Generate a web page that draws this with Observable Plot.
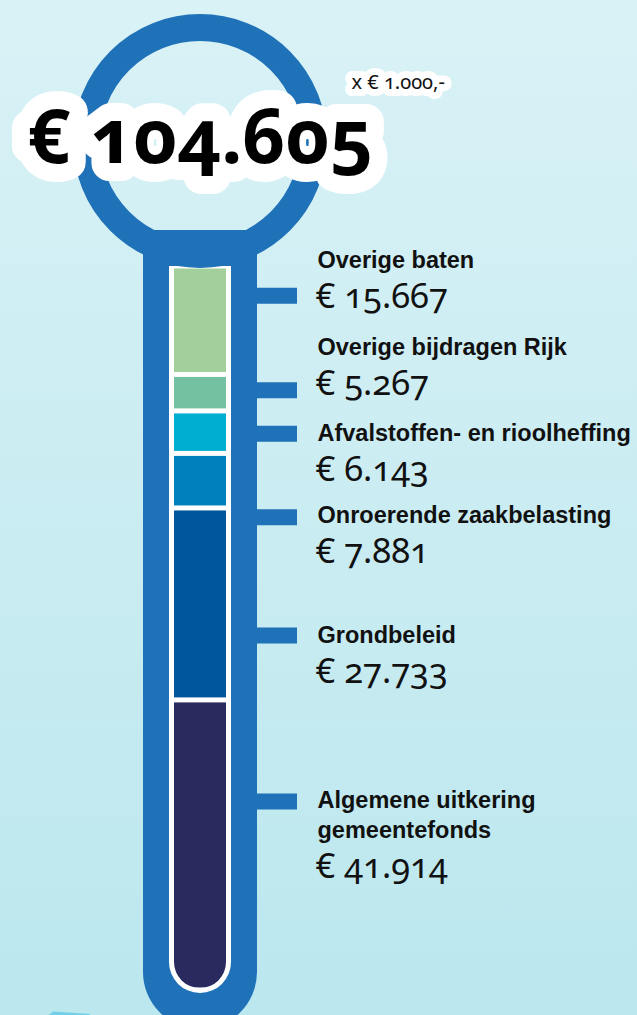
<!DOCTYPE html>
<html>
<head>
<meta charset="utf-8">
<script src="https://cdn.jsdelivr.net/npm/d3@7"></script>
<script src="https://cdn.jsdelivr.net/npm/@observablehq/plot@0.6"></script>
<style>
html, body { margin: 0; padding: 0; overflow: hidden; }
body { width: 637px; height: 1015px; background: linear-gradient(to bottom, #d9f2f6 0%, #bbe7ee 100%); }
#chart svg { background: transparent; }
#chart svg text { font-variant-numeric: oldstyle-nums; }
</style>
</head>
<body>
<div id="chart"></div>
<script>
// ---- data (x € 1.000) ----
const categories = [
  "Overige baten",
  "Overige bijdragen Rijk",
  "Afvalstoffen- en rioolheffing",
  "Onroerende zaakbelasting",
  "Grondbeleid",
  "Algemene uitkering\ngemeentefonds"
];
const values = [15667, 5267, 6143, 7881, 27733, 41914];
const colors = ["#a3cf9c", "#73c1a1", "#00aed1", "#0080bd", "#00569a", "#292a5e"];
const unitNote = "x € 1.000,-";

// ---- layout nudges (px) for the hand-placed labels ----
const tickShift = [-25, -3, 1, 36, 31, -44];
const labelShift = [-53, -38, 8, 42, 39, -7];

const BLUE = "#1f71b8";
const CX = 200;

const total = d3.sum(values);
const nl = d3.formatLocale({decimal: ",", thousands: ".", grouping: [3], currency: ["€ ", ""]});
const euro = nl.format("$,d");

const rows = categories.map((name, i) => ({name, value: values[i]}));
let acc = total;
rows.forEach(r => { r.mid = acc - r.value / 2; acc -= r.value; });

function glassBack() {
  const g = d3.create("svg:g");
  g.append("path")
    .attr("d", `M${CX - 57},230H${CX + 57}V972A57,57 0 0 1 ${CX - 57},972Z`)
    .attr("fill", BLUE);
  g.append("path")
    .attr("d", `M${CX - 31},266H${CX + 31}V962A31,31 0 0 1 ${CX - 31},962Z`)
    .attr("fill", "#ffffff");
  g.append("clipPath").attr("id", "tube-clip")
    .append("path")
    .attr("d", `M${CX - 26},0H${CX + 26}V962A26,26 0 0 1 ${CX - 26},962Z`);
  g.append("path")
    .attr("d", "M49,1015L53,1011.5L90,1014V1015Z")
    .attr("fill", "#72cfe8");
  return g.node();
}

function ring() {
  return d3.create("svg:circle")
    .attr("cx", CX).attr("cy", 141).attr("r", 113.5)
    .attr("fill", "none").attr("stroke", BLUE).attr("stroke-width", 27)
    .node();
}

const labelFont = "'Liberation Sans', Arial, sans-serif";
const numFont = "'Noto Sans', sans-serif";

const tickMarks = rows.map((r, i) => Plot.ruleY([r.mid], {
  x1: () => CX + 50, x2: () => 297, stroke: BLUE, strokeWidth: 16, dy: tickShift[i]
}));
const labelMarks = rows.map((r, i) => Plot.text([r], {
  x: () => 317, y: "mid", text: "name", textAnchor: "start", lineAnchor: "bottom",
  fontFamily: labelFont, fontWeight: "bold", fontSize: 23.5, lineHeight: 1.28,
  fill: "#111", dy: labelShift[i]
}));
const valueMarks = rows.map((r, i) => Plot.text([r], {
  x: () => 315, y: "mid", text: d => euro(d.value), textAnchor: "start", lineAnchor: "bottom",
  fontFamily: numFont, fontSize: 34.5, fill: "#111", dy: labelShift[i] + 40
}));

const chart = Plot.plot({
  width: 637,
  height: 1015,
  marginTop: 266,
  marginBottom: 25,
  marginLeft: 0,
  marginRight: 0,
  style: {background: "transparent"},
  x: {type: "identity", axis: null},
  y: {domain: [0, total], axis: null},
  color: {domain: categories, range: colors},
  marks: [
    glassBack,
    Plot.rectY(rows, {
      x1: () => CX - 26, x2: () => CX + 26, y: "value", fill: "name",
      reverse: true, insetTop: 2.5, insetBottom: 2.5
    }),
    ring,
    ...tickMarks,
    ...labelMarks,
    ...valueMarks,
    Plot.text([total], {
      x: () => CX, y: d => d, text: d => euro(d), textAnchor: "middle", lineAnchor: "bottom",
      fontFamily: numFont, fontWeight: "bold", fontSize: 75, fill: "#000",
      stroke: "#ffffff", strokeWidth: 36, strokeLinejoin: "round", paintOrder: "stroke", dy: -104
    }),
    Plot.text([unitNote], {
      x: () => 351, y: () => total, text: d => d, textAnchor: "start", lineAnchor: "bottom",
      fontFamily: numFont, fontSize: 20, fill: "#111",
      stroke: "#ffffff", strokeWidth: 14, strokeLinejoin: "round", paintOrder: "stroke", dy: -178
    })
  ]
});

const barGroup = chart.querySelector('g[aria-label="rect"]');
if (barGroup) barGroup.setAttribute("clip-path", "url(#tube-clip)");
document.getElementById("chart").appendChild(chart);
</script>
</body>
</html>
